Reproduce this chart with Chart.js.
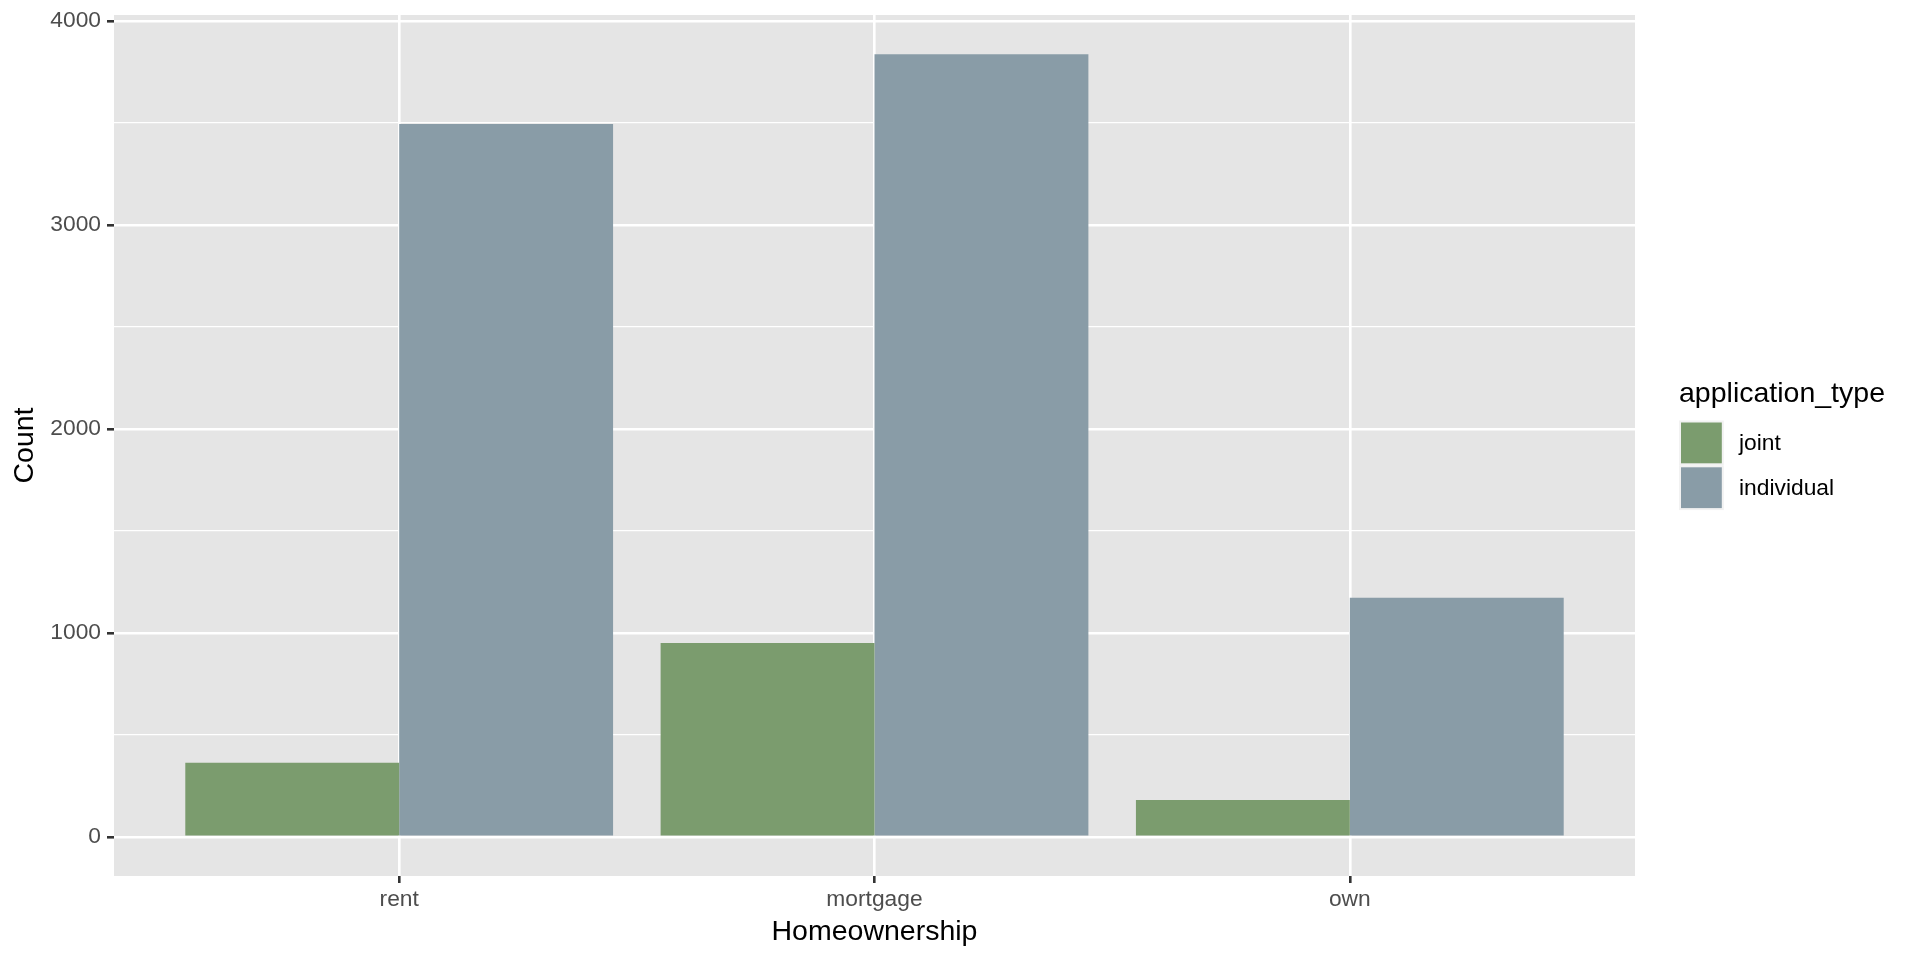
<!DOCTYPE html>
<html>
<head>
<meta charset="utf-8">
<script src="https://cdn.jsdelivr.net/npm/chart.js@4/dist/chart.umd.min.js"></script>
<style>
  html, body { margin: 0; padding: 0; background: #ffffff; }
  #wrap { width: 1920px; height: 960px; }
</style>
</head>
<body>
<div id="wrap"><canvas id="chart" width="1920" height="960"></canvas></div>
<script>
const categories = ['rent', 'mortgage', 'own'];
const seriesNames = ['joint', 'individual'];
const jointCounts = [363, 951, 181];
const individualCounts = [3495, 3838, 1172];
const yMajorTicks = [0, 1000, 2000, 3000, 4000];
const colors = ['#7b9c6e', '#899ca7'];

const FONT = '"Liberation Sans", Arial, Helvetica, sans-serif';

// half-way lines between major ticks (ggplot minor grid)
const yMinorTicks = yMajorTicks.slice(0, -1).map((v, i) => (v + yMajorTicks[i + 1]) / 2);
const yAllTicks = yMajorTicks.concat(yMinorTicks).sort((a, b) => a - b);

const maxVal = Math.max(...jointCounts, ...individualCounts);
const pad = maxVal * 0.05;

const toPoints = arr => arr.map((v, i) => ({ x: i + 1, y: v }));

const panelBg = {
  id: 'panelBg',
  beforeDraw(chart) {
    const { ctx, chartArea: a } = chart;
    ctx.save();
    ctx.fillStyle = '#e5e5e5';
    ctx.fillRect(a.left, a.top, a.right - a.left, a.bottom - a.top);
    ctx.restore();
  }
};

// legend drawn ggplot style, to the right of the panel
const sideLegend = {
  id: 'sideLegend',
  afterDraw(chart) {
    const { ctx } = chart;
    const x0 = 1679;
    const key = 44.8;
    let y = 420.5;
    ctx.save();
    ctx.fillStyle = '#000000';
    ctx.font = '28.5px ' + FONT;
    ctx.textBaseline = 'alphabetic';
    ctx.textAlign = 'left';
    ctx.fillText('application_type', x0, 402);
    chart.data.datasets.forEach(ds => {
      ctx.fillStyle = '#f2f2f2';
      ctx.fillRect(x0, y, key, key);
      ctx.fillStyle = ds.backgroundColor;
      ctx.fillRect(x0 + 2, y + 2, key - 4, key - 4);
      ctx.fillStyle = '#000000';
      ctx.font = '22.8px ' + FONT;
      ctx.textBaseline = 'middle';
      ctx.fillText(ds.label, 1739, y + key / 2 + 1);
      y += key;
    });
    ctx.restore();
  }
};

new Chart(document.getElementById('chart'), {
  type: 'bar',
  data: {
    datasets: [
      { label: seriesNames[0], data: toPoints(jointCounts), backgroundColor: colors[0] },
      { label: seriesNames[1], data: toPoints(individualCounts), backgroundColor: colors[1] }
    ]
  },
  options: {
    responsive: false,
    animation: false,
    devicePixelRatio: 1,
    layout: { padding: { left: 0, top: 15, right: 285, bottom: 0 } },
    datasets: {
      bar: { categoryPercentage: 0.9, barPercentage: 1.0, borderWidth: 0 }
    },
    plugins: {
      legend: { display: false },
      tooltip: { enabled: false }
    },
    scales: {
      x: {
        type: 'linear',
        min: 0.4,
        max: 3.6,
        offset: false,
        afterBuildTicks(scale) {
          scale.ticks = categories.map((c, i) => ({ value: i + 1 }));
        },
        afterFit(scale) {
          scale.height = 84;
          scale.paddingLeft = 0;
          scale.paddingRight = 0;
        },
        border: { display: false },
        grid: {
          offset: false,
          color: '#ffffff',
          lineWidth: 2.6,
          tickColor: '#333333',
          tickWidth: 2.6,
          tickLength: 7
        },
        ticks: {
          padding: 3.5,
          color: '#4d4d4d',
          font: { family: FONT, size: 22.8 },
          maxRotation: 0,
          callback: v => categories[v - 1]
        },
        title: {
          display: true,
          text: 'Homeownership',
          color: '#000000',
          font: { family: FONT, size: 28.5, lineHeight: 1.2 },
          padding: { top: 0, bottom: 11 }
        }
      },
      y: {
        min: -pad,
        max: maxVal + pad,
        afterBuildTicks(scale) {
          scale.ticks = yAllTicks.map(v => ({ value: v }));
        },
        afterFit(scale) {
          scale.width = 114;
          scale.paddingTop = 0;
          scale.paddingBottom = 0;
        },
        border: { display: false },
        grid: {
          color: '#ffffff',
          lineWidth: ctx => (yMajorTicks.includes(ctx.tick.value) ? 2.6 : 1.3),
          tickColor: ctx => (yMajorTicks.includes(ctx.tick.value) ? '#333333' : 'rgba(0,0,0,0)'),
          tickWidth: 2.6,
          tickLength: 7
        },
        ticks: {
          padding: 6,
          color: '#4d4d4d',
          font: { family: FONT, size: 22.8 },
          callback: v => (yMajorTicks.includes(v) ? String(v) : '')
        },
        title: {
          display: true,
          text: 'Count',
          color: '#000000',
          font: { family: FONT, size: 28.5, lineHeight: 1.2 },
          padding: { top: 8, bottom: 0 }
        }
      }
    }
  },
  plugins: [panelBg, sideLegend]
});
</script>
</body>
</html>
